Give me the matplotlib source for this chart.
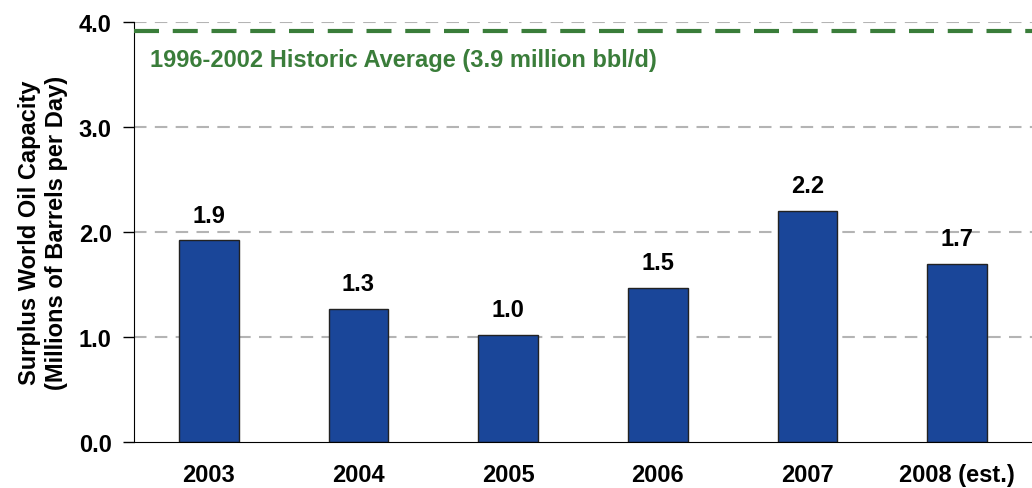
#Surplus world oil capacity bar chart

import matplotlib
matplotlib.use("Agg")
import matplotlib.pyplot as plt

#Font settings.
matplotlib.rc('font', family=['Liberation Sans', 'DejaVu Sans'], weight='bold')

#Data.
years = ["2003", "2004", "2005", "2006", "2007", "2008 (est.)"]
surplus = [1.92, 1.27, 1.02, 1.47, 2.20, 1.70]
labels = ["1.9", "1.3", "1.0", "1.5", "2.2", "1.7"]
hist_avg = 3.91
yticks = [0.0, 1.0, 2.0, 3.0, 4.0]

fig = plt.figure(figsize=(10.32, 4.89), dpi=100)
ax = fig.add_axes([0.1298, 0.094, 0.8702, 0.859])

x = list(range(len(years)))
#Gridlines.
for t in yticks[1:]:
    ax.axhline(t, color='#b4b4b4', linewidth=1.5, linestyle=(0, (6, 4)), zorder=0)

bars = ax.bar(x, surplus, width=0.4, color='#1a4699', edgecolor='#222222', linewidth=1, zorder=2)
for xi, v, lab in zip(x, surplus, labels):
    ax.text(xi, v + 0.13, lab, ha='center', va='bottom', fontsize=17, fontweight='bold')

#Historic average line.
ax.axhline(hist_avg, color='#3a7d3a', linewidth=3, linestyle=(0, (6, 3.3)), zorder=3)
ax.text(-0.39, 3.64, "1996-2002 Historic Average (3.9 million bbl/d)", color='#3a7d3a',
        fontsize=17, fontweight='bold', va='center', ha='left')

ax.set_xlim(-0.5, 5.5)
ax.set_ylim(0, 4.0)
ax.set_yticks(yticks)
ax.set_yticklabels(["%.1f" % t for t in yticks], fontsize=17, fontweight='bold')
ax.set_xticks(x)
ax.set_xticklabels(years, fontsize=17, fontweight='bold')
ax.tick_params(axis='x', length=0, pad=15)
ax.tick_params(axis='y', length=8, width=1, direction='out', pad=8)
ax.spines['top'].set_visible(False)
ax.spines['right'].set_visible(False)
ax.set_ylabel("Surplus World Oil Capacity\n(Millions of Barrels per Day)", fontsize=17,
              fontweight='bold', labelpad=8)

plt.savefig("out.png", dpi=100)
